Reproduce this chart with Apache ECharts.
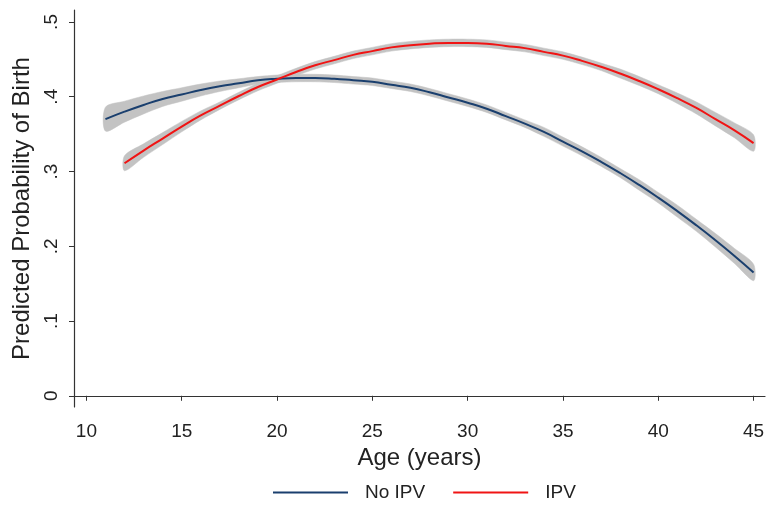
<!DOCTYPE html>
<html>
<head>
<meta charset="utf-8">
<script src="https://cdn.jsdelivr.net/npm/echarts@6/dist/echarts.min.js"></script>
<style>html,body{margin:0;padding:0;background:#fff}#c{width:768px;height:508px}</style>
</head>
<body>
<div id="c"></div>
<script>
const xTicks = [10, 15, 20, 25, 30, 35, 40, 45];
const yTicks = [0, 0.1, 0.2, 0.3, 0.4, 0.5];

const noIpvAges = [11,12,13,14,15,16,17,18,19,20,21,22,23,24,25,26,27,28,29,30,31,32,33,34,35,36,37,38,39,40,41,42,43,44,45];
const noIpvProb = [0.370,0.380,0.389,0.397,0.403,0.409,0.414,0.418,0.422,0.424,0.425,0.425,0.424,0.422,0.420,0.416,0.412,0.406,0.399,0.392,0.384,0.374,0.364,0.353,0.340,0.327,0.313,0.298,0.282,0.265,0.247,0.228,0.208,0.187,0.165];
const noIpvCI = [0.016,0.014,0.012,0.010,0.009,0.008,0.007,0.006,0.005,0.005,0.005,0.005,0.005,0.005,0.005,0.005,0.005,0.005,0.005,0.005,0.005,0.005,0.005,0.006,0.006,0.006,0.006,0.006,0.007,0.007,0.008,0.008,0.009,0.010,0.011];

const ipvAges = [12,13,14,15,16,17,18,19,20,21,22,23,24,25,26,27,28,29,30,31,32,33,34,35,36,37,38,39,40,41,42,43,44,45];
const ipvProb = [0.311,0.328,0.344,0.360,0.375,0.388,0.401,0.413,0.423,0.433,0.442,0.449,0.456,0.461,0.466,0.469,0.471,0.472,0.472,0.471,0.468,0.465,0.460,0.455,0.448,0.440,0.431,0.421,0.410,0.398,0.385,0.370,0.355,0.338];
const ipvCI = [0.010,0.009,0.008,0.007,0.006,0.005,0.005,0.005,0.005,0.005,0.005,0.005,0.005,0.005,0.005,0.005,0.005,0.005,0.005,0.005,0.005,0.005,0.005,0.005,0.005,0.005,0.006,0.006,0.006,0.007,0.008,0.009,0.010,0.011];

const FONT = '"Liberation Sans", Arial, sans-serif';
const BLUE = '#1a3f6e';
const RED = '#f01414';
const BAND = '#c3c3c3';

function bandSeries(id, ages, prob, ci) {
  const rows = ages.map((a, i) => [a, prob[i] - ci[i], prob[i] + ci[i]]);
  return {
    name: id + '_band', type: 'custom', silent: true, z: 1,
    data: rows,
    encode: { x: 0, y: [1, 2] },
    renderItem: function (params, api) {
      if (params.dataIndex !== 0) return null;
      const upper = rows.map(r => api.coord([r[0], r[2]]));
      const lower = rows.map(r => api.coord([r[0], r[1]])).reverse();
      return {
        type: 'polygon',
        shape: { points: upper.concat(lower), smooth: 0.3 },
        style: { fill: BAND, stroke: BAND, lineWidth: 0.5 }
      };
    }
  };
}

const chart = echarts.init(document.getElementById('c'), null, { renderer: 'canvas' });
chart.setOption({
  animation: false,
  backgroundColor: '#fff',
  textStyle: { fontFamily: FONT },
  grid: { left: 74, right: 3, top: 10, bottom: 101, containLabel: false },
  xAxis: {
    type: 'value', min: 9.35, max: 45.6,
    name: 'Age (years)', nameLocation: 'middle', nameGap: 35,
    nameTextStyle: { fontSize: 24, color: '#222', fontFamily: FONT },
    axisLine: { show: true, lineStyle: { color: '#333', width: 1.2 } },
    axisTick: { show: true, length: 5, lineStyle: { color: '#333' }, customValues: xTicks },
    axisLabel: { fontSize: 19, color: '#222', margin: 15, customValues: xTicks, fontFamily: FONT },
    splitLine: { show: false }
  },
  yAxis: {
    type: 'value', min: -0.015, max: 0.516,
    name: 'Predicted Probability of Birth', nameLocation: 'middle', nameGap: 31, nameRotate: 90,
    nameTextStyle: { fontSize: 24, color: '#222', fontFamily: FONT },
    axisLine: { show: true, lineStyle: { color: '#333', width: 1.2 } },
    axisTick: { show: true, length: 5, lineStyle: { color: '#333' }, customValues: yTicks },
    axisLabel: { fontSize: 19, color: '#222', margin: 13, rotate: 90, customValues: yTicks, fontFamily: FONT,
      formatter: v => { if (Math.abs(v) < 1e-9) return '0'; return String(Math.round(v * 10) / 10).replace(/^0/, ''); } },
    splitLine: { show: false }
  },
  legend: {
    bottom: 1, left: 268, itemWidth: 75, itemHeight: 2, itemGap: 28,
    textStyle: { fontSize: 19, color: '#222', fontFamily: FONT, padding: [0, 0, 0, 12] },
    data: [{ name: 'No IPV', icon: 'rect' }, { name: 'IPV', icon: 'rect' }]
  },
  series: [
    bandSeries('noipv', noIpvAges, noIpvProb, noIpvCI),
    bandSeries('ipv', ipvAges, ipvProb, ipvCI),
    { name: 'No IPV', type: 'line', data: noIpvAges.map((a, i) => [a, noIpvProb[i]]), symbol: 'none', smooth: true,
      color: BLUE, lineStyle: { color: BLUE, width: 2 }, z: 3 },
    { name: 'IPV', type: 'line', data: ipvAges.map((a, i) => [a, ipvProb[i]]), symbol: 'none', smooth: true,
      color: RED, lineStyle: { color: RED, width: 2 }, z: 4 }
  ]
});
</script>
</body>
</html>
